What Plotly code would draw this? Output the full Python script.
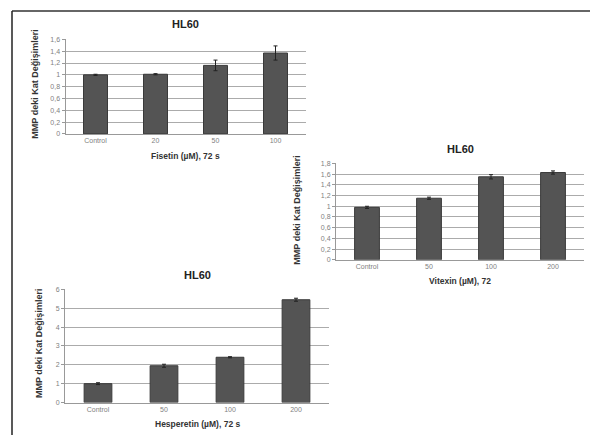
import plotly.graph_objects as go

W, H = 590, 438

# ---- data ----
fis_cats = ["Control", "20", "50", "100"]
fis_vals = [1.0, 1.01, 1.16, 1.37]
fis_err = [0.01, 0.01, 0.09, 0.12]

vit_cats = ["Control", "50", "100", "200"]
vit_vals = [0.98, 1.15, 1.55, 1.63]
vit_err = [0.02, 0.02, 0.04, 0.03]

hes_cats = ["Control", "50", "100", "200"]
hes_vals = [1.0, 1.95, 2.4, 5.45]
hes_err = [0.05, 0.08, 0.03, 0.08]

fis_ticks = [0, 0.2, 0.4, 0.6, 0.8, 1.0, 1.2, 1.4, 1.6]
vit_ticks = [0, 0.2, 0.4, 0.6, 0.8, 1.0, 1.2, 1.4, 1.6, 1.8]
hes_ticks = [0, 1, 2, 3, 4, 5, 6]

title_text = "HL60"
ytitle = "MMP deki Kat Değişimleri"
fis_xtitle = "Fisetin (µM), 72 s"
vit_xtitle = "Vitexin (µM), 72"
hes_xtitle = "Hesperetin (µM), 72 s"


def lab(v):
    return ("%g" % v).replace(".", ",")


def px_x(p):
    return p / W


def px_y(p):
    return 1 - p / H


FONT = "Liberation Sans, Arial, sans-serif"
fig = go.Figure()

panels = [
    # cats, vals, err, ticks, ymax, x0, x1, ytop, ybot, xaxis, yaxis, xtitle, width, title_y, ytitle_x
    (fis_cats, fis_vals, fis_err, fis_ticks, 1.6, 65.5, 305.5, 36, 132, "x", "y", fis_xtitle, 0.4, 20, 35),
    (vit_cats, vit_vals, vit_err, vit_ticks, 1.8, 336, 584, 162, 260, "x2", "y2", vit_xtitle, 0.4, 147, 297),
    (hes_cats, hes_vals, hes_err, hes_ticks, 6, 65, 329, 290, 405, "x3", "y3", hes_xtitle, 0.42, 275, 39),
]

ann = []
for i, (cats, vals, err, ticks, ymax, x0, x1, yt, yb, xa, ya, xt, bw, ty, yx) in enumerate(panels):
    fig.add_trace(go.Bar(
        x=cats, y=vals, xaxis=xa, yaxis=ya, width=bw,
        marker=dict(color="#545454", line=dict(color="#3a3a3a", width=1)),
        error_y=dict(type="data", array=err, color="#222222", thickness=1, width=2),
        showlegend=False,
    ))
    sfx = "" if i == 0 else str(i + 1)
    fig.layout["xaxis" + sfx] = dict(
        domain=[px_x(x0), px_x(x1)], anchor=ya, showgrid=False,
        showline=True, linecolor="#999999", linewidth=1,
        tickfont=dict(size=7, color="#808080", family=FONT),
        ticks="", fixedrange=True,
    )
    fig.layout["yaxis" + sfx] = dict(
        domain=[px_y(yb), px_y(yt)], anchor=xa, range=[0, ymax],
        tickvals=ticks, ticktext=[lab(t) for t in ticks],
        showgrid=True, gridcolor="#ababab", gridwidth=1,
        showline=True, linecolor="#999999", linewidth=1,
        ticks="outside", ticklen=3, tickcolor="#999999",
        tickfont=dict(size=7, color="#808080", family=FONT),
        zeroline=False, fixedrange=True,
    )
    xc = (x0 + x1) / 2
    ann.append(dict(text="<b>%s</b>" % title_text, x=px_x(xc), y=px_y(ty),
                    xref="paper", yref="paper", showarrow=False,
                    xanchor="center", yanchor="middle",
                    font=dict(size=11, color="#222222", family=FONT)))
    ann.append(dict(text="<b>%s</b>" % xt, x=px_x(xc), y=px_y(yb + 22),
                    xref="paper", yref="paper", showarrow=False,
                    xanchor="center", yanchor="middle",
                    font=dict(size=8.5, color="#333333", family=FONT)))
    ann.append(dict(text="<b>%s</b>" % ytitle, x=px_x(yx), y=px_y((yt + yb) / 2 - 2),
                    xref="paper", yref="paper", showarrow=False, textangle=-90,
                    xanchor="center", yanchor="middle",
                    font=dict(size=9, color="#333333", family=FONT)))

fig.update_layout(
    width=W, height=H, margin=dict(l=0, r=0, t=0, b=0),
    paper_bgcolor="white", plot_bgcolor="white",
    annotations=ann, bargap=0.6,
    shapes=[
        dict(type="line", xref="paper", yref="paper", x0=px_x(12), x1=1, y0=px_y(7), y1=px_y(7),
             line=dict(color="#666666", width=2)),
        dict(type="line", xref="paper", yref="paper", x0=px_x(12), x1=px_x(12), y0=px_y(7), y1=0,
             line=dict(color="#222222", width=1.5)),
    ],
)

fig.write_html("out.html")
